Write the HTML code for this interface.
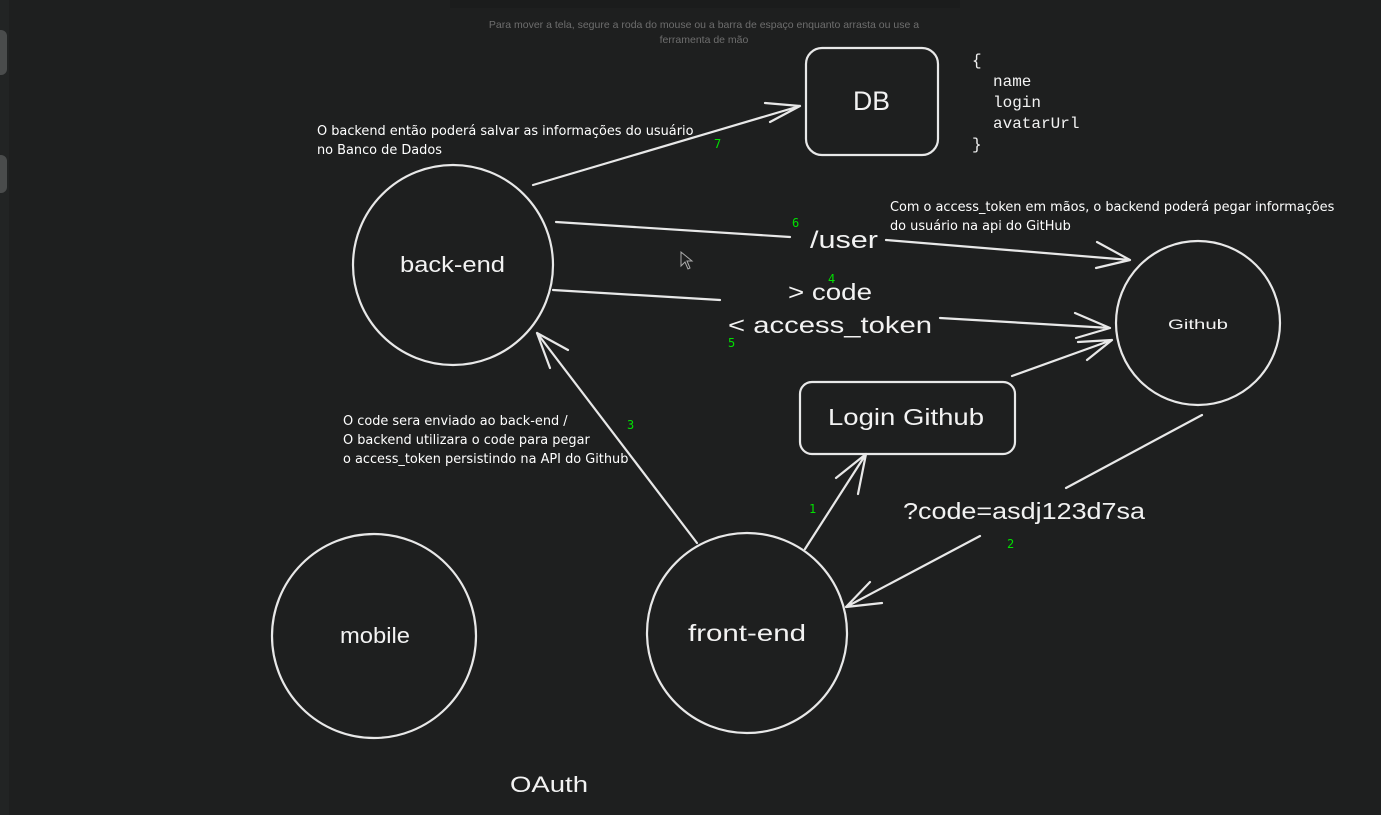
<!DOCTYPE html>
<html><head><meta charset="utf-8"><style>
html,body{margin:0;padding:0;background:#1e1f1f;width:1381px;height:815px;overflow:hidden}
svg{display:block}
.h{font-family:"Liberation Sans",sans-serif;fill:#f2f2f2}
.n{font-family:"DejaVu Sans Mono","Liberation Mono",monospace;fill:#00e000;font-size:12px}
.a{font-family:"DejaVu Sans","Liberation Sans",sans-serif;fill:#fff;font-size:12.9px}
.m{font-family:"Liberation Mono",monospace;fill:#f2f2f2;font-size:16px}
</style></head><body>
<svg width="1381" height="815" viewBox="0 0 1381 815" xmlns="http://www.w3.org/2000/svg">
<rect width="1381" height="815" fill="#1e1f1f"/>
<rect x="0" y="0" width="9" height="815" fill="#222424"/>
<rect x="-6" y="30" width="13" height="45" rx="6" fill="#4a4c4c"/>
<rect x="-6" y="155" width="13" height="38" rx="6" fill="#4a4c4c"/>
<rect x="450" y="0" width="510" height="8" fill="#1b1c1c"/>
<text x="704" y="28" text-anchor="middle" font-family="Liberation Sans,sans-serif" font-size="10.5" fill="#6e6e6e">Para mover a tela, segure a roda do mouse ou a barra de espaço enquanto arrasta ou use a</text>
<text x="704" y="43" text-anchor="middle" font-family="Liberation Sans,sans-serif" font-size="10.5" fill="#6e6e6e">ferramenta de mão</text>
<g fill="none" stroke="#e8e8e8" stroke-width="2.2" stroke-linecap="round">
<circle cx="453" cy="265" r="100"/>
<circle cx="1198" cy="323" r="82"/>
<circle cx="374" cy="636" r="102"/>
<circle cx="747" cy="633" r="100"/>
<rect x="806" y="48" width="132" height="107" rx="16"/>
<rect x="800" y="382" width="215" height="72" rx="12"/>
<path d="M533 185 L800 106 M800 106 L765 103 M800 106 L770 122"/>
<path d="M556 222 L790 237 M886 240 L1130 260 M1130 260 L1097 242 M1130 260 L1096 268"/>
<path d="M553 290 L720 300 M940 318 L1110 328 M1110 328 L1075 313 M1110 328 L1076 338"/>
<path d="M1012 376 L1112 340 M1112 340 L1078 342 M1112 340 L1087 360"/>
<path d="M1202 415 L1066 488 M980 536 L846 607 M846 607 L870 582 M846 607 L882 603"/>
<path d="M805 549 L866 454 M866 454 L836 478 M866 454 L858 494"/>
<path d="M697 543 L537 333 M537 333 L568 350 M537 333 L550 368"/>
</g>
<g class="h" lengthAdjust="spacingAndGlyphs">
<text x="400" y="272" font-size="22" textLength="105" lengthAdjust="spacingAndGlyphs">back-end</text>
<text x="1168" y="329" font-size="14" textLength="60" lengthAdjust="spacingAndGlyphs">Github</text>
<text x="340" y="643" font-size="22" textLength="70" lengthAdjust="spacingAndGlyphs">mobile</text>
<text x="688" y="641" font-size="23" textLength="118" lengthAdjust="spacingAndGlyphs">front-end</text>
<text x="853" y="110" font-size="27" textLength="37" lengthAdjust="spacingAndGlyphs">DB</text>
<text x="828" y="425" font-size="23" textLength="156" lengthAdjust="spacingAndGlyphs">Login Github</text>
<text x="810" y="248" font-size="24" textLength="68" lengthAdjust="spacingAndGlyphs">/user</text>
<text x="788" y="300" font-size="23" textLength="84" lengthAdjust="spacingAndGlyphs">&gt; code</text>
<text x="728" y="333" font-size="23" textLength="204" lengthAdjust="spacingAndGlyphs">&lt; access_token</text>
<text x="903" y="519" font-size="23" textLength="242" lengthAdjust="spacingAndGlyphs">?code=asdj123d7sa</text>
<text x="510" y="792" font-size="22" textLength="78" lengthAdjust="spacingAndGlyphs">OAuth</text>
</g>
<text class="m" x="972" y="65">{</text>
<text class="m" x="993" y="86">name</text>
<text class="m" x="993" y="107">login</text>
<text class="m" x="993" y="128">avatarUrl</text>
<text class="m" x="972" y="149">}</text>
<text class="a" x="317" y="135">O backend então poderá salvar as informações do usuário</text>
<text class="a" x="317" y="154">no Banco de Dados</text>
<text class="a" x="890" y="211">Com o access_token em mãos, o backend poderá pegar informações</text>
<text class="a" x="890" y="230">do usuário na api do GitHub</text>
<text class="a" x="343" y="425">O code sera enviado ao back-end /</text>
<text class="a" x="343" y="444">O backend utilizara o code para pegar</text>
<text class="a" x="343" y="463">o access_token persistindo na API do Github</text>
<text class="n" x="714" y="148">7</text>
<text class="n" x="792" y="227">6</text>
<text class="n" x="828" y="283">4</text>
<text class="n" x="728" y="347">5</text>
<text class="n" x="627" y="429">3</text>
<text class="n" x="809" y="513">1</text>
<text class="n" x="1007" y="548">2</text>
<path d="M681 252 L681 266 L685 262 L688 269 L690 268 L687 261 L692 261 Z" fill="#1e1f1f" stroke="#aaa" stroke-width="1"/>
</svg>
</body></html>
